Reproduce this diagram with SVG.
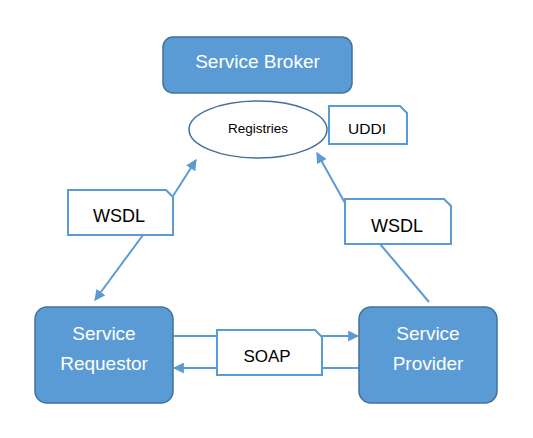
<svg xmlns="http://www.w3.org/2000/svg" width="533" height="438" viewBox="0 0 533 438">
<style>
.node{fill:#5B9BD5;stroke:#41719C;stroke-width:1.5}
.nt{fill:#fff;font-family:"Liberation Sans",Arial,sans-serif;font-size:19px;text-anchor:middle}
.doc{fill:#fff;stroke:#5B9BD5;stroke-width:2}
.dt{fill:#000;font-family:"Liberation Sans",Arial,sans-serif;text-anchor:middle}
.ln{stroke:#5B9BD5;stroke-width:2;fill:none}
</style>
<defs>
<marker id="ah" viewBox="0 0 10 10" refX="9" refY="5" markerWidth="5.5" markerHeight="5.5" orient="auto" markerUnits="strokeWidth">
<path d="M0,0 L10,5 L0,10 z" fill="#5B9BD5"/>
</marker>
</defs>
<rect width="533" height="438" fill="#fff"/>
<g id="connectors">
<line class="ln" x1="173" y1="196" x2="196" y2="160" marker-end="url(#ah)"/>
<line class="ln" x1="143" y1="235" x2="95" y2="300" marker-end="url(#ah)"/>
<line class="ln" x1="345" y1="203" x2="317" y2="153" marker-end="url(#ah)"/>
<line class="ln" x1="380" y1="244" x2="429" y2="302"/>
<line class="ln" x1="173" y1="336" x2="217" y2="336" stroke-width="1.5"/>
<line class="ln" x1="322" y1="336" x2="358" y2="336" marker-end="url(#ah)"/>
<line class="ln" x1="359" y1="368" x2="322" y2="368"/>
<line class="ln" x1="217" y1="368" x2="174" y2="368" marker-end="url(#ah)"/>
</g>
<g id="broker">
<rect class="node" x="163" y="37" width="189" height="56" rx="10"/>
<text class="nt" x="257.5" y="68">Service Broker</text>
</g>
<g id="registries">
<ellipse cx="258" cy="129.5" rx="69" ry="28.5" fill="#fff" stroke="#41719C" stroke-width="1.5"/>
<text class="dt" x="258" y="133" font-size="13.5">Registries</text>
</g>
<g id="uddi">
<path class="doc" d="M329,106 H400 L407,113 V144 H329 Z"/>
<text class="dt" x="367" y="134" font-size="15.5">UDDI</text>
</g>
<g id="wsdl-left">
<path class="doc" d="M68,190 H166 L173,197 V235 H68 Z"/>
<text class="dt" x="119" y="222" font-size="18">WSDL</text>
</g>
<g id="wsdl-right">
<path class="doc" d="M345,199 H444 L451,206 V244 H345 Z"/>
<text class="dt" x="397" y="232" font-size="18">WSDL</text>
</g>
<g id="requestor">
<rect class="node" x="35" y="307" width="138" height="96" rx="12"/>
<text class="nt" x="104" y="340">Service</text>
<text class="nt" x="104" y="370">Requestor</text>
</g>
<g id="provider">
<rect class="node" x="359" y="307" width="138" height="96" rx="12"/>
<text class="nt" x="428" y="340">Service</text>
<text class="nt" x="428" y="370">Provider</text>
</g>
<g id="soap">
<path class="doc" d="M217,330 H315 L322,337 V375 H217 Z"/>
<text class="dt" x="267" y="362" font-size="17">SOAP</text>
</g>
</svg>
